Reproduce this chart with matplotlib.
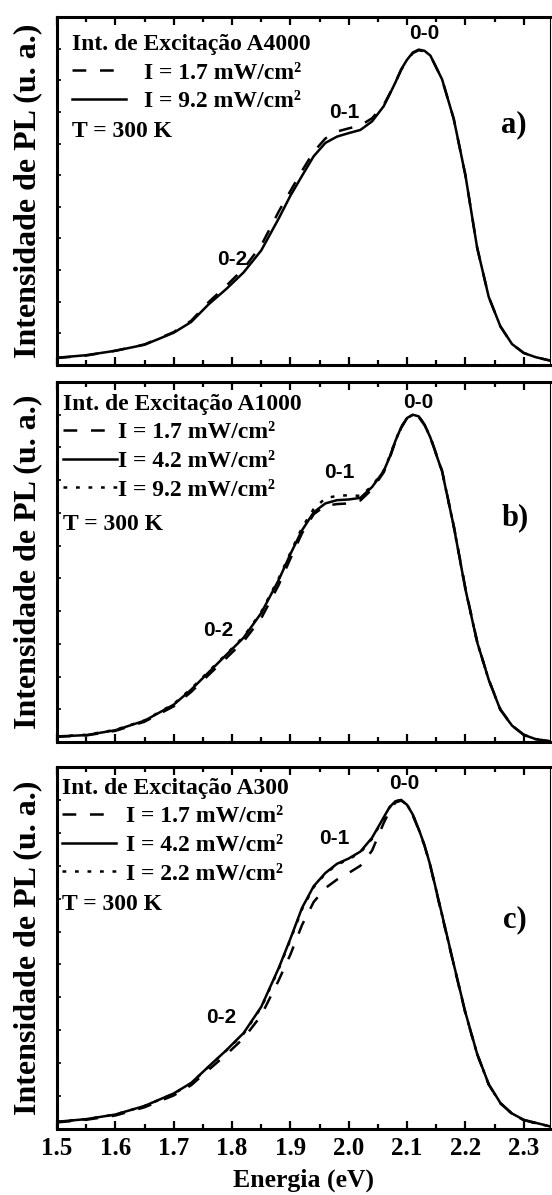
import numpy as np
import matplotlib
matplotlib.use('Agg')
import matplotlib.pyplot as plt
from matplotlib.ticker import MultipleLocator, FormatStrFormatter

# Energia (eV) - grade comum
energia = [1.50, 1.55, 1.60, 1.65, 1.70, 1.73, 1.76, 1.79, 1.82, 1.85, 1.88, 1.90,
           1.92, 1.94, 1.96, 1.98, 2.00, 2.02, 2.04, 2.06, 2.07, 2.08, 2.09, 2.10,
           2.11, 2.12, 2.13, 2.14, 2.16, 2.18, 2.20, 2.22, 2.24, 2.26, 2.28, 2.30,
           2.32, 2.345]

# a) A4000
a_17 = [0.022, 0.030, 0.045, 0.065, 0.104, 0.140, 0.199, 0.250, 0.305, 0.378, 0.485, 0.550,
        0.614, 0.674, 0.716, 0.738, 0.748, 0.757, 0.780, 0.822, 0.857, 0.893, 0.933, 0.963,
        0.986, 0.995, 0.991, 0.978, 0.903, 0.778, 0.600, 0.372, 0.215, 0.122, 0.066, 0.038,
        0.025, 0.014]
a_92 = [0.023, 0.031, 0.045, 0.064, 0.102, 0.136, 0.192, 0.240, 0.293, 0.362, 0.463, 0.535,
        0.598, 0.660, 0.702, 0.722, 0.733, 0.743, 0.770, 0.818, 0.855, 0.893, 0.935, 0.965,
        0.988, 0.997, 0.993, 0.978, 0.903, 0.778, 0.600, 0.372, 0.215, 0.122, 0.066, 0.038,
        0.025, 0.014]

# b) A1000
b_17 = [0.016, 0.020, 0.034, 0.062, 0.109, 0.153, 0.205, 0.256, 0.308, 0.378, 0.480, 0.560,
        0.638, 0.696, 0.722, 0.727, 0.729, 0.738, 0.772, 0.824, 0.866, 0.918, 0.960, 0.990,
        0.999, 0.993, 0.968, 0.932, 0.829, 0.661, 0.470, 0.308, 0.190, 0.100, 0.050, 0.022,
        0.009, 0.002]
b_42 = [0.017, 0.021, 0.036, 0.065, 0.114, 0.160, 0.213, 0.266, 0.319, 0.394, 0.495, 0.574,
        0.647, 0.702, 0.729, 0.739, 0.741, 0.746, 0.779, 0.828, 0.870, 0.920, 0.962, 0.990,
        1.000, 0.995, 0.970, 0.930, 0.827, 0.659, 0.467, 0.306, 0.190, 0.098, 0.050, 0.022,
        0.009, 0.002]
b_92 = [0.017, 0.022, 0.037, 0.066, 0.116, 0.163, 0.216, 0.268, 0.322, 0.397, 0.500, 0.578,
        0.655, 0.712, 0.745, 0.752, 0.754, 0.752, 0.782, 0.830, 0.872, 0.921, 0.963, 0.990,
        1.000, 0.995, 0.970, 0.930, 0.827, 0.659, 0.467, 0.306, 0.190, 0.098, 0.050, 0.022,
        0.009, 0.002]

# c) A300
c_17 = [0.020, 0.028, 0.041, 0.066, 0.102, 0.133, 0.180, 0.226, 0.276, 0.345, 0.452, 0.530,
        0.620, 0.690, 0.732, 0.758, 0.778, 0.800, 0.846, 0.930, 0.966, 0.992, 0.998, 0.985,
        0.953, 0.909, 0.860, 0.798, 0.648, 0.499, 0.352, 0.228, 0.135, 0.078, 0.046, 0.027,
        0.018, 0.008]
c_42 = [0.022, 0.030, 0.044, 0.070, 0.108, 0.140, 0.190, 0.239, 0.292, 0.371, 0.489, 0.578,
        0.672, 0.738, 0.778, 0.806, 0.822, 0.843, 0.885, 0.947, 0.978, 0.996, 1.000, 0.985,
        0.955, 0.911, 0.862, 0.800, 0.651, 0.501, 0.354, 0.229, 0.136, 0.079, 0.047, 0.028,
        0.019, 0.008]
c_22 = [0.022, 0.030, 0.044, 0.070, 0.107, 0.139, 0.189, 0.238, 0.290, 0.369, 0.486, 0.575,
        0.668, 0.735, 0.776, 0.803, 0.820, 0.840, 0.882, 0.945, 0.977, 0.997, 0.999, 0.986,
        0.954, 0.910, 0.861, 0.799, 0.650, 0.500, 0.353, 0.228, 0.135, 0.078, 0.046, 0.027,
        0.018, 0.008]

paineis = [
    dict(tit='Int. de Excitação A4000', letra='a)',
         series=[(a_17, 'dash', 'I = 1.7 mW/cm²'), (a_92, 'solid', 'I = 9.2 mW/cm²')],
         picos={'0-0': (2.130, 1.049), '0-1': (1.992, 0.797), '0-2': (1.801, 0.332)},
         letra_pos=(2.283, 0.759), leg=(0.03, 0.951), pad=0.76, temp=(0.03, 0.672)),
    dict(tit='Int. de Excitação A1000', letra='b)',
         series=[(b_17, 'dash', 'I = 1.7 mW/cm²'), (b_42, 'solid', 'I = 4.2 mW/cm²'),
                 (b_92, 'dot', 'I = 9.2 mW/cm²')],
         picos={'0-0': (2.120, 1.036), '0-1': (1.984, 0.825), '0-2': (1.777, 0.342)},
         letra_pos=(2.285, 0.684), leg=(0.012, 0.967), pad=0.05, temp=(0.012, 0.603)),
    dict(tit='Int. de Excitação A300', letra='c)',
         series=[(c_17, 'dash', 'I = 1.7 mW/cm²'), (c_42, 'solid', 'I = 4.2 mW/cm²'),
                 (c_22, 'dot', 'I = 2.2 mW/cm²')],
         picos={'0-0': (2.096, 1.051), '0-1': (1.975, 0.884), '0-2': (1.781, 0.340)},
         letra_pos=(2.285, 0.635), leg=(0.01, 0.970), pad=0.4, temp=(0.01, 0.619)),
]

estilos = {'dash': dict(dashes=(5.5, 5.5)), 'solid': dict(linestyle='-'),
           'dot': dict(dashes=(1.5, 3.5))}

serif = {'family': 'Liberation Serif', 'weight': 'bold'}
sans = {'family': 'Liberation Sans', 'weight': 'bold'}

W, H = 552, 1195
fig = plt.figure(figsize=(W / 100, H / 100), dpi=100)
caixas = [(57, 17, 550, 365), (57, 382, 550, 742), (57, 767, 550, 1129)]

lw = 1.8
for i, (p, (l, t, r, b)) in enumerate(zip(paineis, caixas)):
    ax = fig.add_axes([l / W, 1 - b / H, (r - l) / W, (b - t) / H])
    handles = []
    for y, est, lab in p['series']:
        ln, = ax.plot(energia, y, color='black', lw=lw, label=lab, **estilos[est])
        handles.append(ln)
    ax.set_xlim(1.5, 2.345)
    ax.set_ylim(0, 1.1)

    ax.xaxis.set_major_locator(MultipleLocator(0.1))
    ax.xaxis.set_minor_locator(MultipleLocator(0.05))
    ax.xaxis.set_major_formatter(FormatStrFormatter('%.1f'))
    ax.yaxis.set_major_locator(MultipleLocator(0.1))
    ax.tick_params(axis='x', which='major', direction='in', top=True, bottom=True,
                   length=6, width=1.6, pad=6)
    ax.tick_params(axis='x', which='minor', direction='in', top=True, bottom=True,
                   length=3.5, width=1.6)
    ax.tick_params(axis='y', which='major', direction='in', left=True, right=False,
                   length=3, width=1.2, labelleft=False)
    if i < 2:
        ax.tick_params(axis='x', labelbottom=False)
    else:
        for tl in ax.get_xticklabels():
            tl.set_fontproperties(serif)
            tl.set_fontsize(18)
        ax.set_xlabel('Energia (eV)', fontdict=serif, fontsize=18.5, labelpad=6)

    for s in ['left', 'top', 'bottom']:
        ax.spines[s].set_linewidth(2.2)
    ax.spines['right'].set_linewidth(0.8)

    ax.set_ylabel('Intensidade de PL (u. a.)', fontdict=serif, fontsize=23)
    ax.yaxis.set_label_coords(-0.03, 0.5)

    for txt, (x, y) in p['picos'].items():
        ax.text(x, y, txt, fontdict=sans, fontsize=15, ha='center', va='center')
    ax.text(*p['letra_pos'], p['letra'], fontdict=serif, fontsize=22,
            ha='center', va='center')

    leg = ax.legend(handles=handles, loc='upper left', bbox_to_anchor=p['leg'],
                    frameon=False, title=p['tit'], borderpad=0, borderaxespad=0,
                    handlelength=2.3, handletextpad=p['pad'], labelspacing=0.3,
                    prop=dict(serif, size=17), title_fontproperties=dict(serif, size=17))
    leg._legend_box.align = 'left'
    ax.text(*p['temp'], 'T = 300 K', transform=ax.transAxes, fontdict=serif,
            fontsize=17, ha='left', va='center')

fig.savefig('out.png', dpi=100)
